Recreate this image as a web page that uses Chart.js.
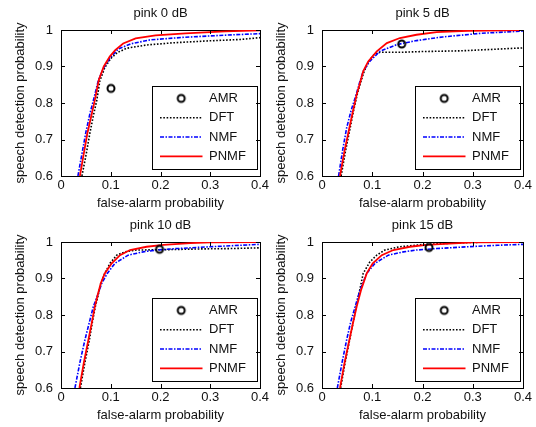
<!DOCTYPE html>
<html><head><meta charset="utf-8">
<script src="https://cdn.jsdelivr.net/npm/chart.js@4/dist/chart.umd.min.js"></script>
<style>
html,body{margin:0;padding:0;background:#fff;}
body{width:536px;height:427px;position:relative;overflow:hidden;}
canvas{position:absolute;}
</style></head><body>
<canvas id="c0" width="275" height="213" style="left:0;top:0"></canvas>
<canvas id="c1" width="275" height="213" style="left:261px;top:0"></canvas>
<canvas id="c2" width="275" height="213" style="left:0;top:212px"></canvas>
<canvas id="c3" width="275" height="213" style="left:261px;top:212px"></canvas>
<script>
// ---------- data ----------
const titles = ['pink 0 dB', 'pink 5 dB', 'pink 10 dB', 'pink 15 dB'];
const seriesNames = ['AMR', 'DFT', 'NMF', 'PNMF'];
const xTickLabels = ['0', '0.1', '0.2', '0.3', '0.4'];
const yTickLabels = ['0.6', '0.7', '0.8', '0.9', '1'];

const amrX = [0.1005, 0.1586, 0.198, 0.213];
const amrY = [0.840, 0.9616, 0.980, 0.985];

// pink 0 dB
const dft0X  = [0.042, 0.050, 0.058, 0.065, 0.072, 0.078, 0.088, 0.100, 0.113, 0.132, 0.172, 0.226, 0.293, 0.360, 0.400];
const dft0Y  = [0.600, 0.655, 0.717, 0.765, 0.808, 0.860, 0.897, 0.922, 0.938, 0.950, 0.959, 0.965, 0.970, 0.974, 0.979];
const nmf0X  = [0.034, 0.042, 0.050, 0.058, 0.066, 0.075, 0.086, 0.098, 0.115, 0.140, 0.179, 0.247, 0.332, 0.400];
const nmf0Y  = [0.600, 0.660, 0.720, 0.770, 0.812, 0.862, 0.897, 0.922, 0.948, 0.962, 0.973, 0.980, 0.986, 0.990];
const pnmf0X = [0.038, 0.045, 0.053, 0.061, 0.068, 0.076, 0.086, 0.098, 0.109, 0.125, 0.150, 0.190, 0.250, 0.330, 0.400];
const pnmf0Y = [0.600, 0.655, 0.717, 0.765, 0.808, 0.863, 0.900, 0.927, 0.945, 0.963, 0.977, 0.985, 0.991, 0.996, 0.999];

// pink 5 dB
const dft5X  = [0.038, 0.047, 0.056, 0.063, 0.070, 0.077, 0.084, 0.093, 0.103, 0.115, 0.158, 0.200, 0.277, 0.340, 0.400];
const dft5Y  = [0.600, 0.670, 0.7315, 0.780, 0.823, 0.857, 0.887, 0.914, 0.932, 0.939, 0.939, 0.941, 0.943, 0.947, 0.951];
const nmf5X  = [0.033, 0.041, 0.049, 0.058, 0.068, 0.075, 0.082, 0.095, 0.115, 0.149, 0.188, 0.240, 0.317, 0.400];
const nmf5Y  = [0.600, 0.670, 0.7315, 0.780, 0.823, 0.857, 0.887, 0.914, 0.9416, 0.960, 0.971, 0.981, 0.991, 0.997];
const pnmf5X = [0.0358, 0.045, 0.0544, 0.062, 0.069, 0.076, 0.082, 0.092, 0.109, 0.129, 0.155, 0.188, 0.228, 0.290, 0.400];
const pnmf5Y = [0.600, 0.670, 0.7315, 0.780, 0.823, 0.857, 0.887, 0.914, 0.9416, 0.964, 0.978, 0.987, 0.994, 0.998, 1.000];

// pink 10 dB
const dft10X  = [0.039, 0.048, 0.057, 0.063, 0.069, 0.075, 0.080, 0.088, 0.0985, 0.112, 0.1286, 0.152, 0.212, 0.279, 0.340, 0.400];
const dft10Y  = [0.600, 0.670, 0.7315, 0.780, 0.823, 0.856, 0.887, 0.914, 0.9416, 0.964, 0.973, 0.978, 0.979, 0.981, 0.982, 0.984];
const nmf10X  = [0.028, 0.038, 0.048, 0.057, 0.065, 0.074, 0.082, 0.093, 0.1085, 0.135, 0.165, 0.192, 0.2325, 0.300, 0.346, 0.400];
const nmf10Y  = [0.600, 0.670, 0.7315, 0.780, 0.823, 0.856, 0.887, 0.914, 0.9416, 0.964, 0.973, 0.978, 0.982, 0.987, 0.990, 0.9936];
const pnmf10X = [0.037, 0.046, 0.055, 0.062, 0.068, 0.074, 0.080, 0.088, 0.102, 0.1186, 0.1387, 0.172, 0.206, 0.260, 0.300, 0.400];
const pnmf10Y = [0.600, 0.670, 0.7315, 0.780, 0.823, 0.856, 0.887, 0.914, 0.9416, 0.964, 0.978, 0.987, 0.992, 0.997, 0.999, 1.000];

// pink 15 dB
const dft15X  = [0.037, 0.046, 0.055, 0.062, 0.068, 0.075, 0.082, 0.095, 0.109, 0.125, 0.155, 0.200, 0.260, 0.300, 0.400];
const dft15Y  = [0.600, 0.670, 0.7315, 0.780, 0.823, 0.868, 0.914, 0.945, 0.964, 0.978, 0.987, 0.993, 0.997, 0.999, 1.000];
const nmf15X  = [0.0305, 0.040, 0.049, 0.057, 0.066, 0.0756, 0.089, 0.1055, 0.132, 0.162, 0.188, 0.228, 0.290, 0.350, 0.400];
const nmf15Y  = [0.600, 0.670, 0.7315, 0.780, 0.823, 0.868, 0.914, 0.9416, 0.964, 0.973, 0.978, 0.982, 0.987, 0.991, 0.9936];
const pnmf15X = [0.0358, 0.045, 0.0544, 0.062, 0.069, 0.0776, 0.089, 0.101, 0.119, 0.142, 0.175, 0.208, 0.263, 0.300, 0.400];
const pnmf15Y = [0.600, 0.670, 0.7315, 0.780, 0.823, 0.868, 0.914, 0.9416, 0.964, 0.978, 0.987, 0.992, 0.996, 0.999, 1.000];

const dftX = [dft0X, dft5X, dft10X, dft15X],   dftY = [dft0Y, dft5Y, dft10Y, dft15Y];
const nmfX = [nmf0X, nmf5X, nmf10X, nmf15X],   nmfY = [nmf0Y, nmf5Y, nmf10Y, nmf15Y];
const pnmfX = [pnmf0X, pnmf5X, pnmf10X, pnmf15X], pnmfY = [pnmf0Y, pnmf5Y, pnmf10Y, pnmf15Y];

// ---------- rendering ----------
const FONT = '"Liberation Sans", Arial, sans-serif';
const TXT = '#111';
const TICK_LEN = 4;
const TICK_COLOR = '#000';
const pts = (xs, ys) => xs.map((x, i) => ({x: x, y: ys[i]}));

const circleImg = document.createElement('canvas');
circleImg.width = 12; circleImg.height = 12;
(function () {
  const g = circleImg.getContext('2d');
  g.strokeStyle = '#000'; g.lineWidth = 2;
  g.beginPath(); g.arc(6, 6, 3.5, 0, Math.PI * 2); g.stroke();
})();

// MATLAB-style frame: inward ticks at the scales' ticks, legend inside the plot with a box
function makeFrame() {
  return {
    id: 'matlabFrame',
    afterLayout(chart) {
      const a = chart.chartArea, L = chart.legend;
      const boxL = a.right - 108, boxT = a.bottom - 90;
      L.left = boxL + 1.7; L.top = boxT - 0.4;
      L.right = L.left + 112; L.bottom = L.top + 96;
    },
    afterDraw(chart) {
      const a = chart.chartArea, ctx = chart.ctx;
      const sx = chart.scales.x, sy = chart.scales.y;
      ctx.save();
      ctx.setLineDash([]);
      ctx.strokeStyle = TICK_COLOR; ctx.lineWidth = 1;
      ctx.beginPath();
      sx.ticks.forEach(t => {
        const p = Math.round(sx.getPixelForValue(t.value)) + 0.5;
        ctx.moveTo(p, a.bottom); ctx.lineTo(p, a.bottom - TICK_LEN);
        ctx.moveTo(p, a.top); ctx.lineTo(p, a.top + TICK_LEN);
      });
      sy.ticks.forEach(t => {
        const p = Math.round(sy.getPixelForValue(t.value)) + 0.5;
        ctx.moveTo(a.left, p); ctx.lineTo(a.left + TICK_LEN, p);
        ctx.moveTo(a.right, p); ctx.lineTo(a.right - TICK_LEN, p);
      });
      ctx.stroke();
      ctx.strokeStyle = '#000';
      ctx.strokeRect(Math.round(a.right - 108) + 0.5, Math.round(a.bottom - 90) + 0.5, 105, 83);
      ctx.restore();
    }
  };
}

function boxAxis(pos, min, max) {
  const horiz = pos === 'top';
  return {
    type: 'linear', position: pos, min: min, max: max,
    ticks: {display: false, stepSize: 0.1},
    grid: {drawOnChartArea: false, drawTicks: false, color: '#000'},
    border: {display: true, color: '#000', width: 1},
    afterFit(s) { if (horiz) s.height = 0; else s.width = 0; s.paddingLeft = s.paddingRight = s.paddingTop = s.paddingBottom = 0; }
  };
}

function makeChart(canvasId, k, padRight) {
  return new Chart(document.getElementById(canvasId), {
    type: 'line',
    data: {
      datasets: [
        {label: seriesNames[0], data: [{x: amrX[k], y: amrY[k]}], showLine: false,
         pointStyle: circleImg, legendStyle: circleImg, pointRadius: 4,
         borderColor: '#000', backgroundColor: 'rgba(0,0,0,0)', borderWidth: 2, order: 0},
        {label: seriesNames[1], data: pts(dftX[k], dftY[k]), borderColor: '#000', borderWidth: 1.6,
         borderDash: [1.6, 1.7], pointRadius: 0, legendStyle: 'line', order: 3},
        {label: seriesNames[2], data: pts(nmfX[k], nmfY[k]), borderColor: '#0000ff', borderWidth: 1.6,
         borderDash: [4, 1.5, 1.5, 1.5], pointRadius: 0, legendStyle: 'line', order: 2},
        {label: seriesNames[3], data: pts(pnmfX[k], pnmfY[k]), borderColor: '#ff0000', borderWidth: 1.8,
         pointRadius: 0, legendStyle: 'line', order: 1}
      ]
    },
    options: {
      responsive: false, animation: false, events: [],
      layout: {padding: {left: 0, top: 0, right: padRight, bottom: 0}},
      elements: {line: {tension: 0, fill: false}},
      scales: {
        x: {
          type: 'linear', position: 'bottom', min: 0, max: 0.4,
          ticks: {stepSize: 0.1, padding: 2, color: TXT, font: {family: FONT, size: 13},
                  maxRotation: 0, autoSkip: false, callback: (v, i) => xTickLabels[i]},
          grid: {drawOnChartArea: false, drawTicks: false, color: '#000'},
          border: {display: true, color: '#000', width: 1},
          title: {display: true, text: 'false-alarm probability', color: TXT,
                  font: {family: FONT, size: 13}, padding: {top: 0, bottom: 2}},
          afterFit(s) { s.height = 37; s.paddingLeft = 0; s.paddingRight = 0; }
        },
        y: {
          type: 'linear', position: 'left', min: 0.6, max: 1,
          ticks: {stepSize: 0.1, padding: 8, color: TXT, font: {family: FONT, size: 13},
                  callback: (v, i) => yTickLabels[i]},
          grid: {drawOnChartArea: false, drawTicks: false, color: '#000'},
          border: {display: true, color: '#000', width: 1},
          title: {display: true, text: 'speech detection probability', color: TXT,
                  font: {family: FONT, size: 13}, padding: {top: 13, bottom: 0}},
          afterFit(s) { s.width = 61; s.paddingTop = 0; s.paddingBottom = 0; }
        },
        x2: boxAxis('top', 0, 0.4),
        y2: boxAxis('right', 0.6, 1)
      },
      plugins: {
        title: {display: true, text: titles[k], color: TXT, fullSize: false,
                font: {family: FONT, size: 13, weight: 'normal'}, padding: {top: 6, bottom: 8.4}},
        tooltip: {enabled: false},
        legend: {
          display: true, position: 'chartArea', align: 'start',
          labels: {
            usePointStyle: true, pointStyleWidth: 42.5, boxHeight: 13, padding: 6.3,
            color: TXT, font: {family: FONT, size: 13},
            sort: (a, b) => a.datasetIndex - b.datasetIndex,
            generateLabels(chart) {
              const items = Chart.defaults.plugins.legend.labels.generateLabels(chart);
              items.forEach(it => {
                const ds = chart.data.datasets[it.datasetIndex];
                it.pointStyle = ds.legendStyle;
                it.lineDash = ds.borderDash || [];
                it.lineWidth = ds.borderWidth;
                it.strokeStyle = ds.borderColor;
                it.fillStyle = 'rgba(0,0,0,0)';
              });
              return items;
            }
          }
        }
      }
    },
    plugins: [makeFrame()]
  });
}

const charts = [
  makeChart('c0', 0, 15),
  makeChart('c1', 1, 13),
  makeChart('c2', 2, 15),
  makeChart('c3', 3, 13)
];
</script>
</body></html>
